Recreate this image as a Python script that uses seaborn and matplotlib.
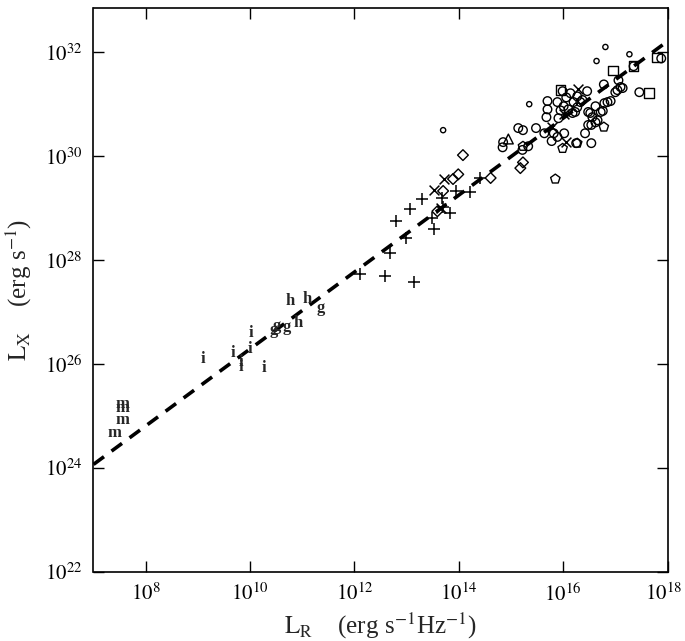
import numpy as np
import pandas as pd
import matplotlib
matplotlib.use('Agg')
import matplotlib.pyplot as plt
import matplotlib.transforms as mtransforms
import seaborn as sns
from matplotlib.ticker import FixedLocator, FuncFormatter, NullLocator

# log10 L_R and log10 L_X, one pair of lists per symbol
circle_lr = [15.99, 16.14, 16.46, 16.27, 16.37, 16.20, 15.70, 15.89, 15.70, 15.68,
             15.95, 16.10, 16.27, 16.18, 15.91, 16.01, 16.48, 16.62, 16.76, 16.56,
             16.66, 16.48, 16.85, 16.91, 17.04, 17.14, 17.06, 17.46, 16.78, 15.48,
             15.14, 15.23, 15.64, 15.82, 16.02, 15.89, 15.78, 15.33, 15.22, 14.85,
             14.84, 16.54, 16.42, 16.25, 17.35, 16.54, 16.72, 16.52, 17.00, 17.10,
             16.79, 16.62, 16.23, 16.06, 16.33, 17.88]
circle_lx = [31.25, 31.21, 31.25, 31.15, 31.08, 31.04, 31.06, 31.04, 30.90, 30.75,
             30.88, 30.90, 30.94, 30.83, 30.73, 30.96, 30.85, 30.96, 30.87, 30.75,
             30.69, 30.60, 31.04, 31.06, 31.27, 31.31, 31.46, 31.23, 31.38, 30.54,
             30.54, 30.50, 30.44, 30.44, 30.44, 30.37, 30.29, 30.19, 30.12, 30.27,
             30.17, 30.25, 30.44, 30.25, 31.73, 30.60, 30.85, 30.83, 31.23, 31.33,
             31.02, 30.65, 30.85, 31.13, 31.04, 31.88]

dot_lr = [16.81, 16.64, 17.27, 15.35, 13.70]
dot_lx = [32.10, 31.83, 31.96, 31.00, 30.50]

pentagon_lr = [15.85, 16.78, 16.27, 15.99, 15.23]
pentagon_lx = [29.56, 30.56, 30.25, 30.15, 30.19]

square_lr = [15.95, 16.95, 17.35, 17.65, 17.80]
square_lx = [31.27, 31.65, 31.73, 31.21, 31.90]

triangle_lr = [14.95]
triangle_lx = [30.33]

diamond_lr = [14.08, 13.99, 13.89, 13.70, 13.59, 14.61, 15.18, 15.23]
diamond_lx = [30.02, 29.65, 29.56, 29.33, 28.94, 29.58, 29.77, 29.88]

xmark_lr = [13.72, 13.53, 13.65, 15.78, 16.02, 16.06, 16.29]
xmark_lx = [29.56, 29.35, 29.00, 30.56, 30.81, 30.27, 31.29]

plus_lr = [12.10, 12.59, 13.15, 12.69, 12.99, 12.80, 13.06, 13.30, 13.53, 13.48,
           13.69, 13.84, 13.95, 14.21, 14.40, 13.67]
plus_lx = [27.73, 27.69, 27.58, 28.13, 28.42, 28.75, 28.98, 29.17, 28.60, 28.81,
           29.02, 28.90, 29.33, 29.31, 29.58, 29.19]

# letter-coded groups
letter_lr = [7.55, 7.55, 7.55, 7.41,
             9.09, 9.68, 9.83, 9.83, 9.99, 10.02, 10.26,
             10.45, 10.51, 10.70, 11.35,
             10.93, 10.76, 11.10]
letter_lx = [25.23, 25.15, 24.92, 24.67,
             26.10, 26.21, 26.04, 25.94, 26.29, 26.60, 25.92,
             26.65, 26.73, 26.71, 27.08,
             26.79, 27.21, 27.25]
letter_tag = ['m', 'm', 'm', 'm',
              'i', 'i', 'i', 'i', 'i', 'i', 'i',
              'g', 'g', 'g', 'g',
              'h', 'h', 'h']

# fitted relation log L_X = a log L_R + b
fit_slope = 0.74
fit_intercept = 18.89
fit_range = [7.0, 18.0]

sns.set_style('ticks')
plt.rcParams['font.family'] = ['Liberation Serif', 'DejaVu Serif']
plt.rcParams['mathtext.fontset'] = 'stix'

fig = plt.figure(figsize=(6.85, 6.41), dpi=100)
ax = fig.add_axes([93.5 / 685, 69 / 641, 574 / 685, 564 / 641])

# dashed fit line
fit_x = np.array(fit_range)
fit_df = pd.DataFrame({'lr': 10 ** fit_x, 'lx': 10 ** (fit_slope * fit_x + fit_intercept)})
sns.lineplot(data=fit_df, x='lr', y='lx', ax=ax, color='black', lw=2.6,
             zorder=1).lines[0].set_dashes((3.6, 2.6))

open_groups = [
    (circle_lr, circle_lx, 'o', 38),
    (dot_lr, dot_lx, 'o', 14),
    (pentagon_lr, pentagon_lx, 'p', 50),
    (square_lr, square_lx, 's', 48),
    (triangle_lr, triangle_lx, '^', 50),
    (diamond_lr, diamond_lx, 'D', 30),
]
for lr, lx, mk, size in open_groups:
    sns.scatterplot(x=10 ** np.array(lr), y=10 ** np.array(lx), ax=ax, marker=mk,
                    s=size, facecolor='none', edgecolor='black', linewidth=1.0,
                    zorder=3)

line_groups = [
    (plus_lr, plus_lx, '+', 80),
    (xmark_lr, xmark_lx, 'x', 50),
]
for lr, lx, mk, size in line_groups:
    sns.scatterplot(x=10 ** np.array(lr), y=10 ** np.array(lx), ax=ax, marker=mk,
                    s=size, color='black', linewidth=1.1, zorder=3)

for lr, lx, tag in zip(letter_lr, letter_lx, letter_tag):
    ax.text(10 ** lr, 10 ** lx, tag, ha='center', va='center', fontsize=12,
            fontweight='semibold', zorder=4)

ax.set_xscale('log')
ax.set_yscale('log')
ax.set_xlim(1e7, 1e18)
ax.set_ylim(1e22, 10 ** 32.85)

xticks = [1e8, 1e10, 1e12, 1e14, 1e16, 1e18]
yticks = [1e22, 1e24, 1e26, 1e28, 1e30, 1e32]
fmt = FuncFormatter(lambda v, pos: r'$10^{%d}$' % round(np.log10(v)))
ax.xaxis.set_major_locator(FixedLocator(xticks))
ax.yaxis.set_major_locator(FixedLocator(yticks))
ax.xaxis.set_minor_locator(NullLocator())
ax.yaxis.set_minor_locator(NullLocator())
ax.xaxis.set_major_formatter(fmt)
ax.yaxis.set_major_formatter(fmt)
ax.tick_params(which='major', direction='in', length=8, width=1.0,
               top=True, right=True, labelsize=15, pad=8, colors='black')

# keep the last x tick label inside the figure
last = ax.get_xticklabels()[-1]
last.set_transform(last.get_transform() +
                   mtransforms.ScaledTranslation(-4 / 100, 0, fig.dpi_scale_trans))

for sp in ax.spines.values():
    sp.set_linewidth(1.2)
    sp.set_color('black')

ax.set_xlabel(r'$\mathrm{L_R}$    (erg s$^{\mathrm{-1}}$Hz$^{\mathrm{-1}}$)', fontsize=18, labelpad=4)
ax.set_ylabel(r'$\mathrm{L_X}$    (erg s$^{\mathrm{-1}}$)', fontsize=18, labelpad=8)

fig.savefig('out.png', dpi=100, facecolor='white')
